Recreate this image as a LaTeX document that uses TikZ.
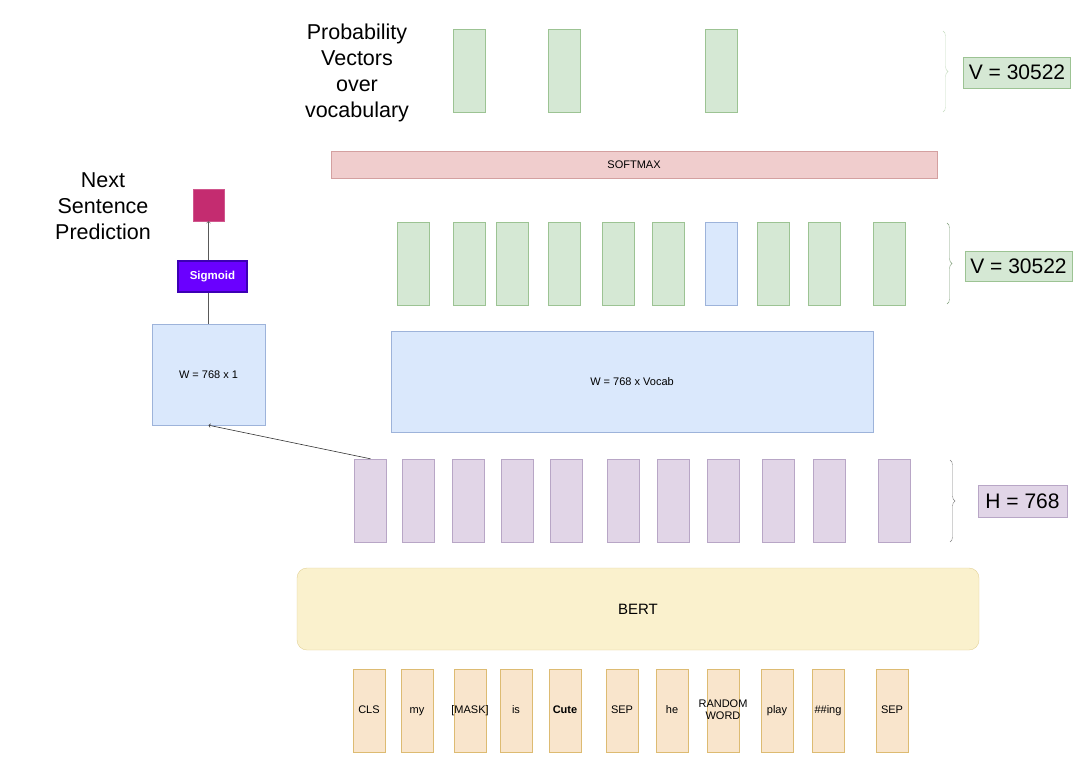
\documentclass[tikz,border=0pt]{standalone}
\usepackage{fontspec}
\setmainfont{Liberation Sans}
\usetikzlibrary{decorations.pathreplacing}
\definecolor{tokenFill}{HTML}{F9E5CC}
\definecolor{tokenLine}{HTML}{DDBB72}
\definecolor{bertFill}{HTML}{FAF1CD}
\definecolor{bertLine}{HTML}{E2D196}
\definecolor{hiddenFill}{HTML}{E1D5E7}
\definecolor{hiddenLine}{HTML}{B8A6C6}
\definecolor{vocabFill}{HTML}{D5E8D4}
\definecolor{vocabLine}{HTML}{9CC393}
\definecolor{weightFill}{HTML}{DAE8FC}
\definecolor{weightLine}{HTML}{9DB3DA}
\definecolor{softFill}{HTML}{F0CDCD}
\definecolor{softLine}{HTML}{D4A0A0}
\definecolor{nspFill}{HTML}{C42C70}
\definecolor{sigFill}{HTML}{6A00FF}
\definecolor{sigLine}{HTML}{3C00B4}
\begin{document}
\begin{tikzpicture}
[x=1pt,y=-1pt,
  boxDecorate/.style={draw,inner sep=0pt,minimum width=32pt,minimum height=83pt},
  tokenDecorate/.style={boxDecorate,fill=tokenFill,draw=tokenLine},
  tokenText/.style={align=center,inner sep=0pt,font=\fontsize{11}{12}\selectfont},
  hiddenDecorate/.style={boxDecorate,fill=hiddenFill,draw=hiddenLine},
  vocabDecorate/.style={boxDecorate,fill=vocabFill,draw=vocabLine},
  bigDecorate/.style={draw,inner sep=0pt,font=\fontsize{11}{13}\selectfont},
  sizeDecorate/.style={draw,inner sep=0pt,font=\fontsize{21}{25}\selectfont},
  titleDecorate/.style={align=center,font=\fontsize{21.5}{26}\selectfont},
  braceDecorate/.style={decorate,decoration={brace,amplitude=5pt}},
  lineDecorate/.style={black!65,line width=0.6pt}]
\useasboundingbox (0,0) rectangle (1087,777);
%% input tokens
\foreach \nodename/\x/\tokentext in {
  1/369/CLS, 2/417/my, 3/470/{[MASK]}, 4/516/is, 5/565/\textbf{Cute}, 6/622/SEP,
  7/672/he, 8/723/{RANDOM\\WORD\strut}, 9/777/play, 10/828/\#\#ing, 11/892/SEP}
{
  \node (t\nodename) at (\x,711) [tokenDecorate] {};
  \node at (t\nodename.center) [tokenText] {\strut\tokentext};
}
\node (bert) at (638,609) [draw=bertLine,fill=bertFill,rounded corners=10pt,
  minimum width=682pt,minimum height=82pt,font=\fontsize{15}{18}\selectfont] {BERT};
%% hidden states
\foreach \nodename/\x in {
  1/370.5, 2/418.5, 3/468, 4/517, 5/566, 6/623, 7/673, 8/723, 9/778, 10/829, 11/894}
{
  \node (h\nodename) at (\x,500.5) [hiddenDecorate] {};
}
\node (hSize) at (1022.5,501) [sizeDecorate,fill=hiddenFill,draw=hiddenLine,
  minimum width=89pt,minimum height=32pt] {H = 768};
%% weight matrices
\node (wVocab) at (632,381.5) [bigDecorate,fill=weightFill,draw=weightLine,
  minimum width=482pt,minimum height=101pt] {W = 768 x Vocab};
\node (wOne) at (208.5,374.5) [bigDecorate,fill=weightFill,draw=weightLine,
  minimum width=113pt,minimum height=101pt] {W = 768 x 1};
%% logits over vocabulary
\foreach \nodename/\x/\col/\edgecol in {
  1/413.5/vocabFill/vocabLine, 2/469/vocabFill/vocabLine, 3/512.5/vocabFill/vocabLine,
  4/564/vocabFill/vocabLine, 5/618/vocabFill/vocabLine, 6/668/vocabFill/vocabLine,
  7/721.5/weightFill/weightLine, 8/773/vocabFill/vocabLine, 9/824/vocabFill/vocabLine,
  10/889/vocabFill/vocabLine}
{
  \node (v\nodename) at (\x,263.5) [boxDecorate,fill=\col,draw=\edgecol] {};
}
\node (vSizeMid) at (1018.5,266) [sizeDecorate,fill=vocabFill,draw=vocabLine,
  minimum width=107pt,minimum height=30pt] {V = 30522};
\node (softmax) at (634,164.5) [bigDecorate,fill=softFill,draw=softLine,
  minimum width=606pt,minimum height=27pt] {SOFTMAX};
%% probability vectors
\foreach \nodename/\x in {1/469, 2/564, 3/721.5}
{
  \node (p\nodename) at (\x,70.5) [vocabDecorate] {};
}
\node (vSizeTop) at (1017,72.5) [sizeDecorate,fill=vocabFill,draw=vocabLine,
  minimum width=107pt,minimum height=31pt] {V = 30522};
\node (probText) at (357,73) [titleDecorate] {Probability\\Vectors\\over\\vocabulary};
%% next sentence prediction head
\node (sigmoid) at (212.5,276.5) [draw=sigLine,line width=1.6pt,fill=sigFill,
  text=white,minimum width=69pt,minimum height=31pt,inner sep=0pt,
  font=\fontsize{11.5}{13}\selectfont\bfseries] {Sigmoid};
\node (nsp) at (208.5,205) [fill=nspFill,draw=nspFill!80!white,
  minimum width=31pt,minimum height=32pt,inner sep=0pt] {};
\node (nspText) at (103,206) [titleDecorate] {Next\\Sentence\\Prediction};
%% connectors
\draw [lineDecorate,->,black!80] (h1.north) -- (wOne.south);
\draw [lineDecorate] (wOne.north) -- (wOne.north |- sigmoid.south);
\draw [lineDecorate,->] (nsp.south |- sigmoid.north) -- (nsp.south);
%% braces
\coordinate (bTopA) at (943,31);
\coordinate (bTopB) at (943,112);
\coordinate (bMidA) at (947,223);
\coordinate (bMidB) at (947,304);
\coordinate (bLowA) at (950,460);
\coordinate (bLowB) at (950,542);
\draw [braceDecorate,vocabLine!60] (bTopA) -- (bTopB);
\draw [braceDecorate,vocabLine!80!black] (bMidA) -- (bMidB);
\draw [braceDecorate,black!50] (bLowA) -- (bLowB);
\end{tikzpicture}
\end{document}
